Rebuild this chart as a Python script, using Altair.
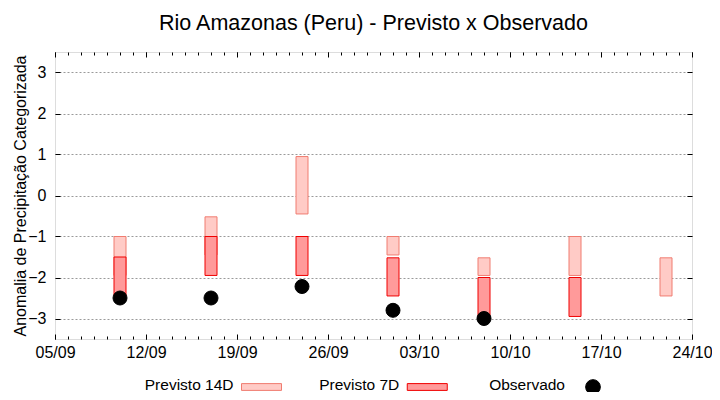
import altair as alt
import pandas as pd

FONT = "Liberation Sans"
YEAR = 2021

TITLE = "Rio Amazonas (Peru) - Previsto x Observado"
Y_TITLE = "Anomalia de Precipitação Categorizada"
SERIES = ["Previsto 14D", "Previsto 7D", "Observado"]

X_START = "05/09"
X_END = "24/10"
TICK_LABELS = ["05/09", "12/09", "19/09", "26/09", "03/10", "10/10", "17/10", "24/10"]
Y_TICKS = [-3, -2, -1, 0, 1, 2, 3]
Y_DOMAIN = [-3.5, 3.5]

P14_DATES = ["10/09", "17/09", "24/09", "01/10", "08/10", "15/10", "22/10"]
P14_TOP = [-1.0, -0.52, 0.95, -1.0, -1.52, -1.0, -1.52]
P14_BOTTOM = [-1.95, -1.45, -0.45, -1.45, -1.95, -1.95, -2.45]

P7_DATES = ["10/09", "17/09", "24/09", "01/10", "08/10", "15/10"]
P7_TOP = [-1.5, -1.0, -1.0, -1.52, -2.0, -2.0]
P7_BOTTOM = [-2.45, -1.95, -1.95, -2.45, -2.93, -2.95]

OBS_DATES = ["10/09", "17/09", "24/09", "01/10", "08/10"]
OBS = [-2.5, -2.5, -2.22, -2.8, -3.0]

FILLS = ["#ffcbc6", "#ff9a9a", "#000000"]
STROKES = ["#f07c70", "#f00000", "#000000"]
KEY_RECT = "M-1,-0.17H1V0.17H-1Z"


def iso(dm):
    d, m = dm.split("/")
    return f"{YEAR}-{m}-{d}"


def dt(dm):
    d, m = dm.split("/")
    return alt.DateTime(year=YEAR, month=int(m), date=int(d), utc=True)


df14 = pd.DataFrame({"date": [iso(d) for d in P14_DATES], "top": P14_TOP,
                     "bottom": P14_BOTTOM, "serie": SERIES[0]})
df7 = pd.DataFrame({"date": [iso(d) for d in P7_DATES], "top": P7_TOP,
                    "bottom": P7_BOTTOM, "serie": SERIES[1]})
dfo = pd.DataFrame({"date": [iso(d) for d in OBS_DATES], "value": OBS,
                    "serie": SERIES[2]})
dfe = pd.DataFrame({"date": pd.Series([], dtype=str), "value": pd.Series([], dtype=float)})
dfl = pd.DataFrame({"serie": SERIES})

tick_vals = [dt(t) for t in TICK_LABELS]
xscale = alt.Scale(type="utc", domain=[dt(X_START), dt(X_END)], padding=0)
yscale = alt.Scale(domain=Y_DOMAIN, nice=False, zero=False, padding=0)
color_scale_fill = alt.Scale(domain=SERIES, range=FILLS)
color_scale_stroke = alt.Scale(domain=SERIES, range=STROKES)

fill = alt.Fill("serie:N", scale=color_scale_fill, legend=None)
stroke = alt.Stroke("serie:N", scale=color_scale_stroke, legend=None)

tick_common = dict(labels=False, domain=False, grid=False, ticks=True,
                   tickColor="black", tickWidth=1, title=None)

x_labels = alt.Axis(values=tick_vals, format="%d/%m", ticks=False, domain=False,
                    grid=False, labelFontSize=16, labelFont=FONT, labelColor="black",
                    labelPadding=5, labelFlush=False, labelOverlap=False, title=None)
y_labels = alt.Axis(values=Y_TICKS, ticks=False, domain=False, grid=True,
                    gridColor="#9a9a9a", gridDash=[2, 2], gridWidth=1,
                    labelFontSize=16, labelFont=FONT, labelColor="black",
                    labelPadding=9, title=Y_TITLE, titleFont=FONT, titleFontSize=16,
                    titleFontWeight="normal", titleColor="black",
                    titleX=-35, titleBaseline="middle")

bars14 = alt.Chart(df14).mark_bar(size=12, strokeWidth=1).encode(
    x=alt.X("date:T", scale=xscale, axis=x_labels),
    y=alt.Y("top:Q", scale=yscale, axis=y_labels),
    y2="bottom:Q",
    fill=fill, stroke=stroke,
)

bars7 = alt.Chart(df7).mark_bar(size=12, strokeWidth=1).encode(
    x=alt.X("date:T", scale=xscale,
            axis=alt.Axis(values=tick_vals, orient="bottom", offset=-5, tickSize=5, **tick_common)),
    y=alt.Y("top:Q", scale=yscale,
            axis=alt.Axis(values=Y_TICKS, orient="left", offset=-5, tickSize=5, **tick_common)),
    y2="bottom:Q",
    fill=fill, stroke=stroke,
)

obs = alt.Chart(dfo).mark_point(shape="circle", size=196, filled=True, opacity=1,
                                strokeWidth=1).encode(
    x=alt.X("date:T", scale=xscale,
            axis=alt.Axis(tickCount={"interval": "day", "step": 1}, orient="bottom",
                          offset=-3, tickSize=3, **tick_common)),
    y=alt.Y("value:Q", scale=yscale,
            axis=alt.Axis(values=Y_TICKS, orient="right", offset=-5, tickSize=5, **tick_common)),
    fill=fill, stroke=stroke,
)

# empty layers carrying the mirrored top ticks
top_major = alt.Chart(dfe).mark_point(opacity=0).encode(
    x=alt.X("date:T", scale=xscale,
            axis=alt.Axis(values=tick_vals, orient="top", offset=-5, tickSize=5, **tick_common)),
    y=alt.Y("value:Q", scale=yscale, axis=None),
)
top_minor = alt.Chart(dfe).mark_point(opacity=0).encode(
    x=alt.X("date:T", scale=xscale,
            axis=alt.Axis(tickCount={"interval": "day", "step": 1}, orient="top",
                          offset=-3, tickSize=3, **tick_common)),
    y=alt.Y("value:Q", scale=yscale, axis=None),
)

# key below the plot: label text right-aligned, key glyph to its right
key_x = alt.X("serie:N", scale=alt.Scale(type="point", domain=SERIES, range=[206.5, 538],
                                         padding=0), axis=None)

key_text = alt.Chart(dfl).mark_text(align="right", baseline="middle", dx=-28,
                                    font=FONT, fontSize=15.5, color="black").encode(
    x=key_x, y=alt.value(333), text="serie:N")
key_rect = alt.Chart(dfl).transform_filter(
    alt.FieldOneOfPredicate(field="serie", oneOf=SERIES[:2])
).mark_point(shape=KEY_RECT, size=1600, filled=True, opacity=1, strokeWidth=1).encode(
    x=key_x, y=alt.value(335), fill=fill, stroke=stroke)
key_dot = alt.Chart(dfl).transform_filter(
    alt.FieldOneOfPredicate(field="serie", oneOf=SERIES[2:])
).mark_point(shape="circle", size=216, filled=True, opacity=1, strokeWidth=1).encode(
    x=key_x, y=alt.value(335), fill=fill, stroke=stroke)

chart = alt.layer(bars14, bars7, obs, top_major, top_minor,
                  key_text, key_rect, key_dot).resolve_scale(
    x="independent"
).resolve_axis(
    x="independent", y="independent"
).properties(
    width=637, height=287,
    autosize=alt.AutoSizeParams(type="none"),
    padding={"left": 47, "top": 44, "right": 20, "bottom": 53},
    title=alt.TitleParams(TITLE, fontSize=21.5, font=FONT, fontWeight="normal",
                          color="black", anchor="middle", offset=17),
).configure_view(stroke="black", strokeWidth=1).configure(background="white")

chart.save("out.html", embed_options={"renderer": "svg", "actions": False})
